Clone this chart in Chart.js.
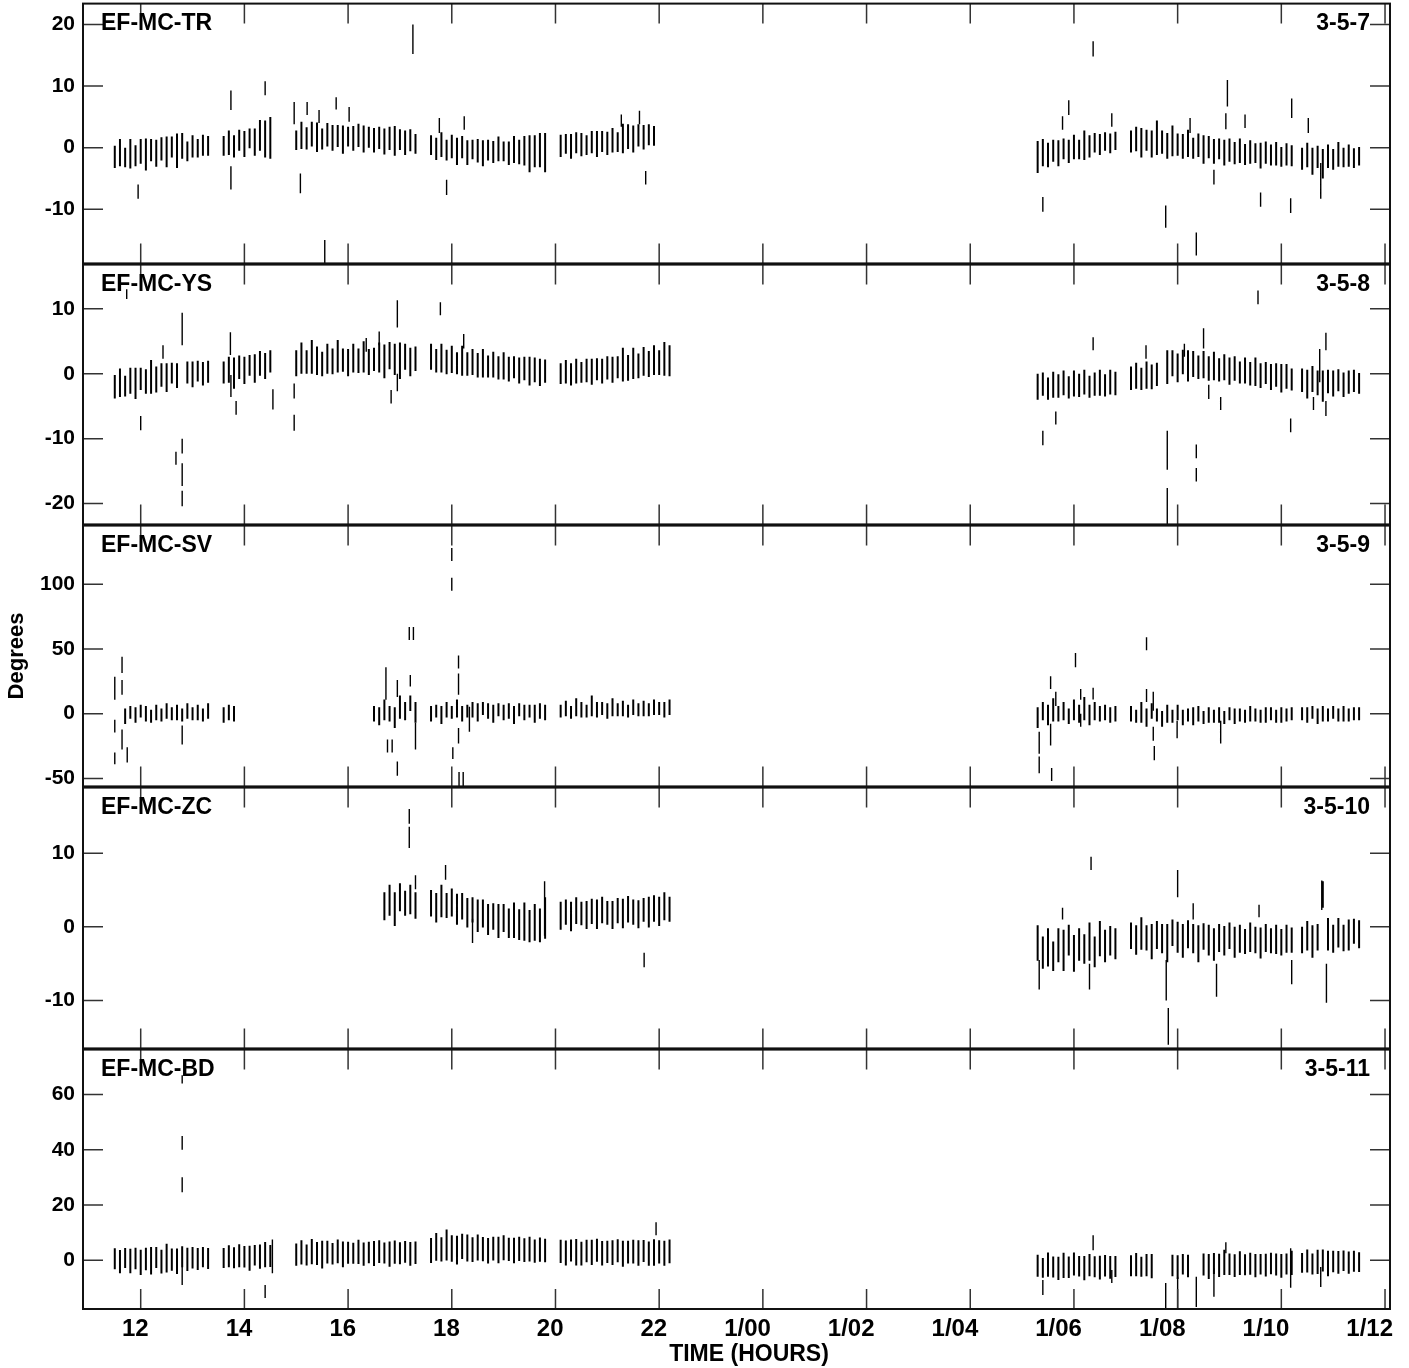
<!DOCTYPE html>
<html>
<head>
<meta charset="utf-8">
<script src="https://cdn.jsdelivr.net/npm/chart.js@4.4.0/dist/chart.umd.min.js"></script>
<style>
  html, body { margin: 0; padding: 0; background: #fff; }
  #wrap { position: relative; width: 1409px; height: 1368px; overflow: hidden; }
  .panel { position: absolute; left: 0; width: 1409px; }
</style>
</head>
<body>
<div id="wrap"></div>
<script>
// scan times (hours, 24+ = next day), one entry per averaged point
const scanTimes = [
  11.5, 11.6, 11.7, 11.8, 11.9, 12.0, 12.1, 12.2, 12.3, 12.4, 12.5, 12.6, 12.7, 12.8, 12.9, 13.0, 13.1, 13.2, 13.3,
  13.6, 13.7, 13.8, 13.9, 14.0, 14.1, 14.2, 14.3, 14.4, 14.5,
  15.0, 15.1, 15.2, 15.3, 15.4, 15.5, 15.6, 15.7, 15.8, 15.9, 16.0, 16.1, 16.2, 16.3, 16.4, 16.5, 16.6, 16.7, 16.8, 16.9, 17.0, 17.1, 17.2, 17.3,
  17.6, 17.7, 17.8, 17.9, 18.0, 18.1, 18.2, 18.3, 18.4, 18.5, 18.6, 18.7, 18.8, 18.9, 19.0, 19.1, 19.2, 19.3, 19.4, 19.5, 19.6, 19.7, 19.8,
  20.1, 20.2, 20.3, 20.4, 20.5, 20.6, 20.7, 20.8, 20.9, 21.0, 21.1, 21.2, 21.3, 21.4, 21.5, 21.6, 21.7, 21.8, 21.9, 22.0, 22.1, 22.2,
  29.3, 29.4, 29.5, 29.6, 29.7, 29.8, 29.9, 30.0, 30.1, 30.2, 30.3, 30.4, 30.5, 30.6, 30.7, 30.8,
  31.1, 31.2, 31.3, 31.4, 31.5, 31.6, 31.7, 31.8, 31.9, 32.0, 32.1, 32.2, 32.3, 32.4, 32.5, 32.6,
  32.7, 32.8, 32.9, 33.0, 33.1, 33.2, 33.3, 33.4, 33.5, 33.6, 33.7, 33.8, 33.9, 34.0, 34.1, 34.2,
  34.4, 34.5, 34.6, 34.7, 34.8, 34.9, 35.0, 35.1, 35.2, 35.3, 35.4, 35.5
];

const hourTicks = [12, 14, 16, 18, 20, 22, 24, 26, 28, 30, 32, 34, 36];
const hourLabels = ["12", "14", "16", "18", "20", "22", "1/00", "1/02", "1/04", "1/06", "1/08", "1/10", "1/12"];

// EF-MC-TR  (phase, degrees)
const trMid = [
  -1.5,-0.8,-1.6,-1.0,-1.3, -0.6,-1.1,-0.4,-0.9,-0.2, -0.7,0.1,-0.5,0.3,-0.6, 0.2,-0.1,0.4,0.3,
  0.3,0.8,0.2,1.2,0.6, 1.5,0.9,2.0,1.4,1.6,
  1.2,2.0,1.5,2.2,1.7, 1.4,2.1,1.6,1.9,1.3, 1.8,1.5,2.0,1.4,1.7, 1.2,1.6,1.0,1.5,1.1, 1.3,0.8,1.2,0.6,
  0.4,-0.2,0.5,-0.4,0.2, -0.6,0.1,-0.8,-0.3,-0.5, -0.9,-0.4,-0.7,-0.2,-0.6, -0.9,-0.3,-0.7,-0.5,-1.0, -0.6,-0.4,-0.8,
  0.3,0.6,0.2,0.8,0.5, 0.4,0.9,0.6,1.0,0.7, 1.2,0.9,1.5,1.8,1.4, 2.0,1.7,2.1,1.9,null, null,null,
  -1.5,-0.8,-1.2,-0.5,-0.9, -0.2,-0.6,0.1,-0.3,0.4, 0.2,0.8,0.5,1.0,0.7, 1.1,
  1.0,1.4,0.8,1.2,0.6, 1.6,0.9,0.3,1.1,0.5, 0.2,0.7,-0.1,0.4,-0.3, 0.1,-0.6,-0.2,-0.8,-0.4, -0.9,-0.5,-1.1,-0.7,-0.9, -1.3,-0.8,-1.2,-1.0,-1.5, -1.1,-1.3,
  -1.8,-1.2,-2.2,-1.5,-2.6, -1.4,-1.9,-1.1,-1.6,-1.3, -1.7,-1.4
];
const trHalf = [
  1.8,2.2,1.6,2.4,1.7, 2.0,2.6,1.8,2.2,1.9, 2.5,1.7,2.8,2.1,1.6, 1.8,1.5,1.7,1.6,
  1.6,2.0,1.8,1.7,2.1, 1.6,2.2,2.5,3.0,3.4,
  1.6,2.2,1.8,2.0,2.4, 1.7,1.9,2.1,1.8,2.3, 1.6,2.0,1.9,2.2,1.7, 2.0,1.8,2.1,1.9,2.4, 1.7,2.0,1.8,1.6,
  1.6,1.8,2.0,1.7,1.9, 2.2,1.8,2.0,1.6,1.9, 2.1,1.7,1.8,2.0,1.6, 1.9,2.2,2.0,2.4,3.0, 2.6,2.8,3.2,
  1.8,1.6,2.0,1.7,1.9, 1.6,1.8,2.1,1.7,1.9, 2.0,1.6,2.4,2.0,2.2, 1.8,2.0,1.7,1.6,null, null,null,
  2.6,2.2,2.0,1.8,2.1, 1.7,1.9,2.0,1.6,2.4, 1.8,1.6,1.7,1.5,1.6, 1.5,
  1.8,2.0,2.4,1.7,2.2, 2.8,1.9,2.1,2.5,1.8, 2.0,2.2,1.7,1.9,2.3, 1.8,2.0,1.7,2.1,1.9, 1.8,2.0,1.7,1.9,1.6, 2.1,1.8,1.7,1.9,1.6, 1.8,1.7,
  1.8,2.0,2.2,1.8,2.4, 1.9,1.7,2.0,1.6,1.8, 1.6,1.5
];
// isolated points: [time, low, high]
const trExtra = [
  [11.95,-8.3,-6.0],[13.74,6.1,9.3],[13.74,-6.8,-3.0],[14.4,8.5,10.8],[14.96,3.8,7.4],[15.08,-7.4,-4.2],
  [15.21,5.3,7.4],[15.44,4.0,6.1],[15.55,-19,-15],[15.77,6.2,8.2],[16.02,4.2,6.6],[17.25,15.2,20.0],
  [17.76,2.4,4.8],[17.9,-7.7,-5.2],[18.24,2.9,5.1],[21.27,3.4,5.4],[21.62,3.8,6.0],[21.74,-6.0,-3.8],
  [29.4,-10.4,-8.0],[29.78,2.9,5.1],[29.9,5.3,7.7],[30.37,14.8,17.3],[30.73,3.4,5.6],[31.77,-13,-9.4],
  [32.24,2.4,4.8],[32.36,-17.5,-13.8],[32.7,-6,-3.6],[32.93,3,5.6],[32.96,6.7,11],[33.3,3.2,5.4],
  [33.6,-9.6,-7.3],[34.18,-10.6,-8.2],[34.2,4.8,8],[34.52,2.4,4.8],[34.76,-8.3,-2.5]
];
const trTicks = [20, 10, 0, -10];

// EF-MC-YS
const ysMid = [
  -2.0,-1.4,-1.9,-1.1,-1.5, -0.8,-1.2,-0.5,-0.9,-0.2, -0.6,0.1,-0.3,null,0.2, -0.1,0.4,0.0,0.3,
  0.2,0.6,0.1,1.0,0.5, 1.3,0.8,1.6,1.2,1.9,
  1.6,2.4,1.8,2.6,2.0, 1.5,2.3,1.9,2.7,2.1, 1.7,2.4,2.0,2.6,1.8, 2.2,2.5,1.9,2.8,2.2, 2.0,2.6,1.8,2.3,
  2.6,2.0,2.4,1.8,2.2, 1.6,2.0,1.5,1.8,1.3, 1.6,1.1,1.4,0.9,1.2, 0.7,1.0,0.5,0.8,0.4, 0.6,0.2,0.4,
  0.0,0.3,-0.1,0.4,0.2, 0.5,0.3,0.7,0.4,0.9, 0.6,1.0,1.4,0.9,1.6, 1.2,1.9,1.5,2.1,1.7, 2.3,2.0,
  -2.0,-1.6,-2.3,-1.7,-1.9, -1.4,-2.1,-1.5,-1.8,-1.3, -2.0,-1.6,-1.4,-1.8,-1.3, -1.5,
  -0.7,-0.3,-0.8,-0.2,-0.5, -0.1,null,1.0,1.6,0.9, 1.8,1.2,1.5,1.0,1.4, 0.8,1.2,0.6,1.0,0.4, 0.8,0.2,0.5,0.0,0.3, -0.3,0.1,-0.5,-0.2,-0.7, -0.4,-0.9,
  -1.0,-1.6,-0.8,-1.4,-1.9, -1.2,-1.5,-1.0,-1.7,-1.3, -1.1,-1.5
];
const ysHalf = [
  1.8,2.2,1.6,2.0,2.4, 1.7,1.9,2.6,2.0,1.8, 2.2,1.6,1.9,null,1.7, 2.0,1.6,1.8,1.7,
  1.7,2.0,2.4,1.8,2.1, 1.6,2.2,1.9,2.0,1.7,
  2.0,2.4,1.8,2.6,2.2, 1.9,2.3,2.0,2.5,1.8, 2.1,2.2,1.9,2.4,2.0, 1.8,2.3,2.6,2.1,2.4, 2.8,2.0,2.2,1.9,
  2.0,1.8,2.2,1.9,2.1, 1.7,2.3,1.8,2.0,1.9, 2.2,1.7,2.0,1.8,2.1, 1.9,1.7,2.0,1.8,2.2, 1.9,2.1,1.8,
  1.6,1.8,1.7,1.9,1.6, 1.8,2.0,1.7,1.9,1.8, 2.0,1.7,2.6,2.0,2.4, 1.9,2.2,2.0,2.3,1.9, 2.6,2.4,
  2.0,1.8,1.7,2.0,1.8, 1.9,1.7,2.0,1.8,1.9, 1.7,1.8,2.0,1.7,1.9, 1.8,
  1.8,2.0,1.7,2.1,1.9, 1.8,null,2.6,2.0,2.2, 1.9,2.4,2.0,1.8,2.1, 1.9,2.2,1.8,2.0,2.1, 1.9,1.7,2.0,1.8,2.2, 1.9,1.7,2.0,1.8,2.2, 1.9,1.7,
  1.8,2.2,2.0,1.9,2.4, 1.8,2.0,1.7,1.9,1.8, 1.7,1.6
];
const ysExtra = [
  [11.73,11.5,13],[12.0,-8.7,-6.5],[12.43,2.3,4.4],[12.68,-14,-12],[12.8,4.4,9.4],[12.8,-12.3,-10],
  [12.8,-17.3,-13.8],[12.8,-20.4,-18],[13.73,2.9,6.4],[13.74,-3.6,-0.2],[13.84,-6.3,-4.2],[14.55,-5.5,-2.4],
  [14.96,-8.8,-6.3],[14.96,-3.8,-1.5],[16.35,3.4,5.5],[16.6,4.4,6.5],[16.83,-4.6,-2.5],[16.95,7.1,11.3],
  [16.95,-2.7,0],[17.78,9,11],[18.23,3.9,6.1],[29.4,-11,-8.8],[29.65,-7.8,-5.8],[30.37,3.6,5.6],
  [31.39,2.3,4.4],[31.8,-14.8,-8.8],[31.8,-23.5,-17.6],[32.13,2.6,4.6],[32.36,-13,-10.9],[32.36,-16.6,-14.5],
  [32.5,3.9,7],[32.6,-3.9,-1.7],[32.83,-5.6,-3.6],[33.55,10.7,12.8],[34.18,-9,-6.9],[34.62,-5.6,-3.6],
  [34.74,-1.3,3.8],[34.86,3.6,6.3],[34.86,-6.5,-4.2]
];
const ysTicks = [10, 0, -10, -20];

// EF-MC-SV
const svMid = [
  null,null,-2,1,-1, 2,0,-2,1,-1, 2,0,1,-1,2, 0,1,-1,2,
  -1,1,0,null,null, null,null,null,null,null,
  null,null,null,null,null, null,null,null,null,null, null,null,null,null,null, 0,-2,3,0,-3, 5,2,8,1,
  0,2,-1,3,1, 4,0,2,3,1, 4,2,0,3,1, 2,-1,3,1,2, 0,2,1,
  2,4,1,5,3, 2,6,3,4,2, 5,3,4,2,5, 3,4,3,5,4, 3,5,
  -3,2,-1,3,0, 2,-2,3,0,4, -1,2,0,1,-1, 0,
  0,-2,1,-3,2, -1,-4,0,-2,1, -3,-1,-2,0,-3, -1,-2,-1,-3,0, -2,-1,-2,0,-1, -2,-1,0,-2,-1, -1,0,
  0,-1,1,-2,0, -1,1,-1,0,-1, 0,0
];
const svHalf = [
  null,null,6,5,6, 5,6,5,6,5, 6,5,6,5,6, 5,6,5,6,
  6,6,6,null,null, null,null,null,null,null,
  null,null,null,null,null, null,null,null,null,null, null,null,null,null,null, 6,7,8,6,8, 9,7,6,8,
  6,5,7,6,5, 7,6,5,6,7, 5,6,7,5,6, 6,7,5,6,5, 7,6,6,
  5,6,5,7,6, 5,8,6,5,6, 7,5,6,5,6, 5,6,5,6,5, 6,6,
  8,7,8,9,6, 7,6,8,7,9, 8,7,6,6,6, 6,
  6,5,8,7,6, 5,6,7,5,6, 6,5,7,6,5, 6,5,6,5,5, 6,5,5,6,5, 5,6,5,5,6, 5,5,
  5,6,5,6,6, 5,5,5,6,5, 5,5
];
const svExtra = [
  [11.5,10.8,28.5],[11.5,-14.6,-4.6],[11.5,-39,-30],[11.64,31.5,44],[11.64,14.6,26],[11.64,-27.7,-12.3],
  [11.74,-37.7,-26],[12.8,-23.8,-9.2],[16.73,10.8,36],[16.76,-30,-20],[16.85,-30,-20],[16.95,13,26],
  [16.95,-48,-37],[17.18,57,67],[17.2,21,30],[17.26,57,67],[17.3,-27.7,-7],[18.0,118,128],[18.0,95,105],
  [18.02,-35,-26],[18.13,35,45],[18.13,14.6,31],[18.13,-23,-11],[18.14,-56,-45],[18.22,-56,-45],[18.34,-14,5.4],
  [29.33,-31,-14],[29.33,-46,-33],[29.55,19,29],[29.55,-24.6,-7.7],[29.57,-52,-42],[29.65,6,17],
  [30.03,36,47],[30.13,10.8,19],[30.13,-10,0],[30.37,11,20],[31.4,49,59],[31.4,9,19],
  [31.53,2.3,17],[31.53,-21,-10],[31.55,-36,-25],[31.99,-19,-5.4],[32.83,-23,-5.4]
];
const svTicks = [100, 50, 0, -50];

// EF-MC-ZC
const zcMid = [
  null,null,null,null,null, null,null,null,null,null, null,null,null,null,null, null,null,null,null,
  null,null,null,null,null, null,null,null,null,null,
  null,null,null,null,null, null,null,null,null,null, null,null,null,null,null, null,null,2.8,3.6,2.4, 4.0,3.2,3.7,2.9,
  3.2,2.6,3.5,2.9,3.3, 2.4,2.8,1.9,2.3,1.5, 1.8,1.0,1.4,0.8,1.2, 0.5,0.9,0.3,0.7,0.1, 0.6,0.2,1.2,
  1.5,2.0,1.4,2.2,1.8, 1.6,2.1,1.7,2.3,1.9, 1.6,2.2,1.8,2.4,2.0, 1.7,2.3,2.0,2.5,2.1, 2.8,2.4,
  -2.2,-3.5,-2.8,-4.0,-2.5, -3.2,-1.8,-3.6,-2.4,-3.0, -2.0,-3.4,-1.6,-2.6,-1.9, -2.3,
  -1.2,-1.8,-0.9,-1.5,-2.0, -1.1,-1.6,-2.2,-0.8,-1.4, -1.9,-1.0,-1.6,-2.3,-1.3, -1.8,-2.4,-1.5,-1.9,-1.2, -2.1,-1.6,-2.0,-1.4,-1.8, -2.2,-1.5,-1.9,-1.7,-2.1, -1.6,-1.8,
  -1.8,-1.2,-2.0,-1.4,4.4, -1.0,-1.6,-0.8,-1.5,-1.1, -0.6,-1.0
];
const zcHalf = [
  null,null,null,null,null, null,null,null,null,null, null,null,null,null,null, null,null,null,null,
  null,null,null,null,null, null,null,null,null,null,
  null,null,null,null,null, null,null,null,null,null, null,null,null,null,null, null,null,1.9,2.1,2.3, 1.9,1.7,2.0,1.8,
  1.8,2.0,2.2,1.7,1.9, 2.1,1.8,2.0,1.7,2.2, 1.9,2.1,1.8,2.3,1.9, 2.0,2.4,2.1,2.6,2.2, 2.5,2.3,2.8,
  1.9,1.7,2.0,1.8,1.6, 1.9,1.7,2.0,1.8,1.6, 1.9,1.7,2.0,1.8,1.7, 1.9,1.6,2.1,1.8,2.0, 1.9,1.7,
  2.4,2.2,2.6,2.0,2.3, 2.8,2.1,2.5,2.2,2.0, 2.6,2.1,2.4,2.2,2.0, 2.1,
  1.8,2.0,2.2,1.7,2.4, 1.9,2.0,2.6,1.8,2.1, 2.3,1.9,2.0,2.5,1.8, 2.1,2.2,1.9,2.0,1.8, 2.1,1.9,1.7,2.0,1.8, 2.1,1.9,1.7,2.0,1.8, 1.9,1.7,
  1.8,2.0,2.2,1.8,1.8, 2.2,1.9,2.0,1.8,2.1, 1.7,1.9
];
const zcExtra = [
  [17.18,14,16],[17.18,10.7,13.6],[17.3,5.1,7],[17.88,6.4,8.4],[18.4,-2.2,1.1],[19.79,-1.2,6.2],
  [21.71,-5.5,-3.5],[29.33,-8.5,-4.5],[29.78,1,2.6],[30.3,-8.5,-5],[30.33,7.7,9.5],[31.78,-10,-4.5],
  [31.82,-16,-11],[32.0,4,7.7],[32.3,1,3.2],[32.75,-9.5,-5],[33.57,1.3,3],[34.2,-7.8,-4.5],
  [34.78,2.3,6.3],[34.87,-10.3,-5]
];
const zcTicks = [10, 0, -10];

// EF-MC-BD
const bdMid = [
  0.5,-0.5,0.8,-0.3,0.6, -0.8,0.4,-0.2,1.0,-0.5, 0.7,0.2,-0.4,1.2,0.3, 0.9,0.4,1.1,0.6,
  0.8,1.4,0.9,1.6,1.2, 0.7,1.8,1.3,2.0,1.5,
  2.0,2.8,1.9,3.1,2.4, 2.0,2.9,2.3,3.2,2.1, 2.7,2.5,3.0,2.2,2.8, 2.4,3.1,2.6,2.2,2.9, 2.5,3.0,2.3,2.7,
  3.5,4.8,3.9,5.5,4.2, 3.6,5.0,4.4,3.8,4.6, 4.0,3.4,4.2,3.7,4.5, 3.9,3.5,4.1,3.6,4.0, 3.3,3.8,3.5,
  3.2,2.6,3.5,2.9,2.4, 3.3,2.8,3.6,2.5,3.0, 2.7,3.4,2.3,2.9,3.1, 2.6,3.3,2.4,2.8,3.0, 2.5,3.2,
  -2.0,-2.8,-1.6,-2.5,-3.0, -1.9,-2.6,-1.4,-2.2,-2.9, -1.8,-2.4,-2.7,-2.0,-2.6, -2.3,
  -2.0,-1.6,-2.4,-1.8,-2.2, null,null,null,-1.9,-2.5, -1.5,-2.1,null,null,-1.6, -2.3,-1.2,-1.9,-0.8,-1.5, -2.0,-1.1,-1.7,-1.3,-2.0, -1.5,-1.8,-1.2,-1.6,-2.1, -1.4,-1.0,
  -1.0,-0.3,-1.4,-0.6,-0.1, -1.2,-0.5,-0.8,-0.2,-0.9, -0.4,-0.7
];
const bdHalf = [
  3.8,4.2,3.6,4.4,3.9, 4.6,4.1,5.0,3.8,4.3, 5.2,4.0,4.6,3.8,4.2, 3.9,4.0,3.7,3.8,
  3.6,4.0,3.8,4.2,3.9, 4.5,3.7,4.4,4.6,4.0,
  4.0,4.4,3.8,4.6,4.2, 5.0,4.1,3.9,4.3,4.7, 4.0,3.8,4.4,4.2,3.9, 4.5,4.1,3.8,4.6,4.2, 4.0,3.9,4.3,4.1,
  4.5,5.0,4.4,5.6,4.8, 5.2,4.6,4.9,4.5,4.7, 4.4,4.6,4.3,4.8,4.5, 4.2,4.6,4.4,4.3,4.5, 4.2,4.4,4.3,
  4.2,4.5,4.0,4.8,4.3, 4.1,4.6,4.2,4.4,4.0, 4.5,4.2,4.7,4.1,4.3, 4.6,4.0,4.4,4.8,4.2, 4.5,4.3,
  4.0,3.6,4.4,3.8,4.2, 4.6,3.9,4.2,3.7,4.4, 4.0,3.8,4.3,3.9,4.1, 3.8,
  3.8,4.2,3.6,4.0,4.4, null,null,null,3.9,4.3, 3.7,4.1,null,null,4.0, 4.5,3.8,4.2,4.6,3.9, 4.1,4.3,3.8,4.0,4.2, 3.7,4.1,3.9,4.0,4.3, 3.8,4.4,
  3.6,4.2,3.8,4.4,4.0, 4.6,3.9,4.1,3.7,4.0, 3.8,3.6
];
const bdExtra = [
  [12.8,64,67],[12.8,40,45],[12.8,24.6,30],[12.8,-9,-2.5],[14.4,-13.7,-9],[14.54,-4.7,7.5],
  [21.94,9,13.7],[29.4,-12.6,-7.2],[30.37,3.6,9],[30.73,-8.3,-3.6],[31.77,-18,-8.3],[32.0,-18,-6],
  [32.36,-17,-6],[32.7,-13.3,-2.9],[32.93,2.5,6.5],[34.18,-10,4.3],[34.76,-9.7,-2.5]
];
const bdTicks = [60, 40, 20, 0];

const FONT = '"Liberation Sans", Arial, Helvetica, sans-serif';
const X_MIN = 10.887, X_MAX = 36.096;
const PAD = 20;
// panel edges in page pixels
const edges = [3, 264, 525, 787, 1049, 1309];

const panels = [
  { name: "EF-MC-TR", tag: "3-5-7",  mid: trMid, half: trHalf, extra: trExtra, ticks: trTicks, min: -18.8, max: 23.4 },
  { name: "EF-MC-YS", tag: "3-5-8",  mid: ysMid, half: ysHalf, extra: ysExtra, ticks: ysTicks, min: -23.2, max: 16.8 },
  { name: "EF-MC-SV", tag: "3-5-9",  mid: svMid, half: svHalf, extra: svExtra, ticks: svTicks, min: -56.2, max: 145.4 },
  { name: "EF-MC-ZC", tag: "3-5-10", mid: zcMid, half: zcHalf, extra: zcExtra, ticks: zcTicks, min: -16.5, max: 18.9 },
  { name: "EF-MC-BD", tag: "3-5-11", mid: bdMid, half: bdHalf, extra: bdExtra, ticks: bdTicks, min: -17.7, max: 76.3 },
];

function barPoints(mid, half) {
  const pts = [];
  scanTimes.forEach((t, i) => {
    if (mid[i] === null) return;
    pts.push({ x: t, y: mid[i] - half[i] }, { x: t, y: mid[i] + half[i] }, { x: t, y: null });
  });
  return pts;
}

function extraPoints(list) {
  const pts = [];
  list.slice().sort((a, b) => a[0] - b[0]).forEach(([t, lo, hi]) => {
    pts.push({ x: t, y: lo }, { x: t, y: hi }, { x: t, y: null });
  });
  return pts;
}

// box, inward ticks and panel captions
const framePlugin = {
  id: "frame",
  afterDraw(chart, args, opts) {
    const { ctx, chartArea: a } = chart;
    const x = chart.scales.x, y = chart.scales.y;
    ctx.save();
    ctx.strokeStyle = "#333";
    ctx.lineWidth = 1.5;
    ctx.beginPath();
    hourTicks.forEach((v) => {
      const px = x.getPixelForValue(v);
      ctx.moveTo(px, a.top); ctx.lineTo(px, a.top + 20);
      ctx.moveTo(px, a.bottom); ctx.lineTo(px, a.bottom - 20);
    });
    y.ticks.forEach((t) => {
      const py = y.getPixelForValue(t.value);
      ctx.moveTo(a.left, py); ctx.lineTo(a.left + 20, py);
      ctx.moveTo(a.right, py); ctx.lineTo(a.right - 20, py);
    });
    ctx.stroke();
    ctx.strokeStyle = "#111";
    ctx.lineWidth = 2;
    ctx.strokeRect(a.left, a.top, a.right - a.left, a.bottom - a.top);
    ctx.fillStyle = "#000";
    ctx.font = "bold 23px " + FONT;
    ctx.textBaseline = "middle";
    ctx.textAlign = "left";
    ctx.fillText(opts.name, a.left + 18, a.top + 20);
    ctx.textAlign = "right";
    ctx.fillText(opts.tag, a.right - 20, a.top + 20);
    if (opts.footer) {
      ctx.textAlign = "center";
      ctx.fillText(opts.footer, 749, a.bottom + 46);
    }
    ctx.restore();
  },
};

const wrap = document.getElementById("wrap");

panels.forEach((p, i) => {
  const last = i === panels.length - 1;
  const top = edges[i] - PAD;
  const height = last ? 1368 - top : edges[i + 1] - edges[i] + 2 * PAD;

  const div = document.createElement("div");
  div.className = "panel";
  div.style.top = top + "px";
  div.style.height = height + "px";
  const canvas = document.createElement("canvas");
  canvas.width = 1409;
  canvas.height = height;
  div.appendChild(canvas);
  wrap.appendChild(div);

  const xScale = {
    type: "linear",
    min: X_MIN,
    max: X_MAX,
    display: last,
    grid: { display: false, drawTicks: false },
    border: { display: false },
    afterBuildTicks: (s) => { s.ticks = hourTicks.map((v) => ({ value: v })); },
    ticks: {
      autoSkip: false,
      maxRotation: 0,
      align: "end",
      labelOffset: 8,
      padding: 6,
      color: "#000",
      font: { family: FONT, size: 24, weight: "bold" },
      callback: (v) => hourLabels[hourTicks.indexOf(v)],
    },
  };
  if (last) xScale.afterFit = (s) => { s.height = 1368 - 1309; };

  new Chart(canvas, {
    type: "line",
    data: {
      datasets: [
        { data: barPoints(p.mid, p.half), borderColor: "#000", borderWidth: 2, pointRadius: 0, spanGaps: false },
        { data: extraPoints(p.extra), borderColor: "#000", borderWidth: 1.4, pointRadius: 0, spanGaps: false },
      ],
    },
    options: {
      responsive: false,
      animation: false,
      events: [],
      layout: { padding: { top: PAD, bottom: last ? 0 : PAD, left: 0, right: 1409 - 1390 } },
      plugins: {
        legend: { display: false },
        tooltip: { enabled: false },
        frame: { name: p.name, tag: p.tag, footer: last ? "TIME (HOURS)" : null },
      },
      scales: {
        x: xScale,
        y: {
          min: p.min,
          max: p.max,
          afterFit: (s) => { s.width = 83; },
          afterBuildTicks: (s) => { s.ticks = p.ticks.map((v) => ({ value: v })); },
          grid: { display: false, drawTicks: false },
          border: { display: false },
          ticks: { padding: 8, color: "#000", font: { family: FONT, size: 21, weight: "bold" } },
          title: {
            display: i === 2,
            text: "Degrees",
            color: "#000",
            font: { family: FONT, size: 22, weight: "bold" },
            padding: { top: 4, bottom: 0 },
          },
        },
      },
    },
    plugins: [framePlugin],
  });
});
</script>
</body>
</html>
